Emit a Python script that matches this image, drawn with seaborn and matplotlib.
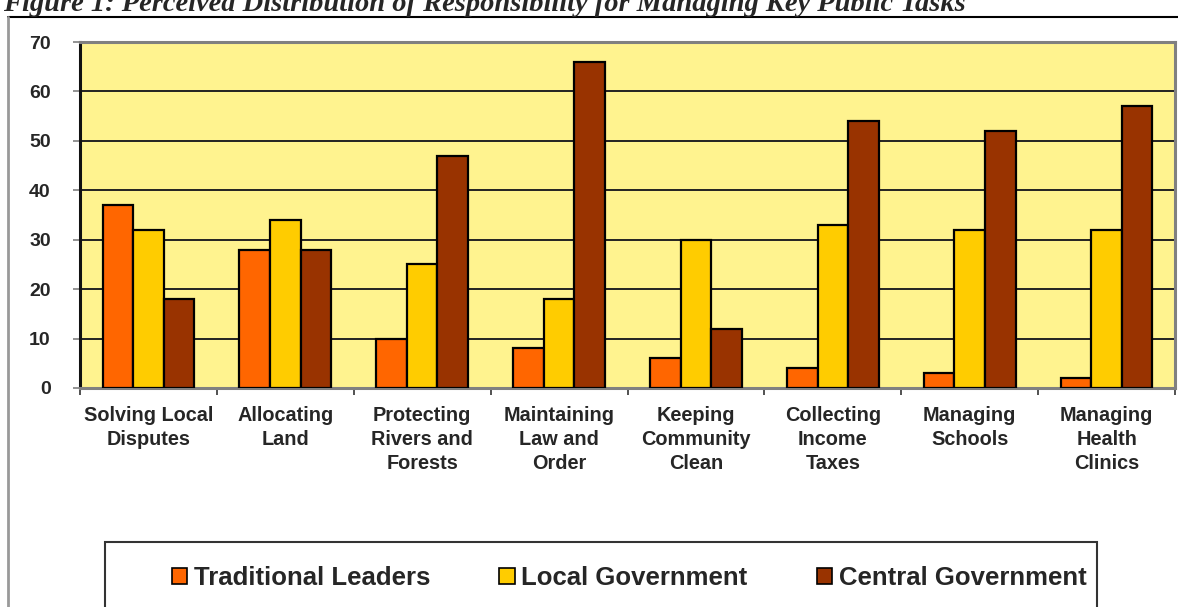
import numpy as np
import pandas as pd
import matplotlib
matplotlib.use("Agg")
import matplotlib.pyplot as plt
from matplotlib.lines import Line2D
from matplotlib.patches import Rectangle
import seaborn as sns

tasks = [
    "Solving Local\nDisputes",
    "Allocating\nLand",
    "Protecting\nRivers and\nForests",
    "Maintaining\nLaw and\nOrder",
    "Keeping\nCommunity\nClean",
    "Collecting\nIncome\nTaxes",
    "Managing\nSchools",
    "Managing\nHealth\nClinics",
]
groups = ["Traditional Leaders", "Local Government", "Central Government"]
traditional = [37, 28, 10, 8, 6, 4, 3, 2]
local_gov = [32, 34, 25, 18, 30, 33, 32, 32]
central_gov = [18, 28, 47, 66, 12, 54, 52, 57]
yticks = [0, 10, 20, 30, 40, 50, 60, 70]
colors = ["#FF6600", "#FFCC00", "#993300"]

df = pd.DataFrame({
    "task": tasks * 3,
    "group": [groups[0]] * 8 + [groups[1]] * 8 + [groups[2]] * 8,
    "value": traditional + local_gov + central_gov,
})

sns.set_theme(style="white")
plt.rcParams["font.family"] = ["Liberation Sans", "DejaVu Sans"]

fig = plt.figure(figsize=(11.78, 6.07), dpi=100)
ax = fig.add_axes([0.0679, 0.3608, 0.9296, 0.570])
ax.set_facecolor("#FFF38F")

sns.barplot(data=df, x="task", y="value", hue="group", order=tasks,
            hue_order=groups, palette=colors, width=0.67, gap=0,
            edgecolor="black", linewidth=1.6, saturation=1, ax=ax,
            legend=False, zorder=3)

ax.set_xlim(-0.5, len(tasks) - 0.5)
ax.set_ylim(0, 70)
ax.set_yticks(yticks)
ax.set_yticklabels([str(v) for v in yticks], fontsize=14, fontweight="bold")
ax.yaxis.grid(True, color="#222222", linewidth=1.4, zorder=1)
ax.set_axisbelow(True)
ax.set_xlabel("")
ax.set_ylabel("")

ax.set_xticks(range(len(tasks)))
ax.set_xticklabels(tasks, fontsize=14.3, fontweight="bold", linespacing=1.32)
ax.tick_params(axis="x", which="major", length=0, pad=13)
ax.set_xticks(np.arange(-0.5, len(tasks), 1.0), minor=True)
ax.tick_params(axis="x", which="minor", length=5, width=1.2, color="#333333",
               bottom=True, direction="out")
ax.tick_params(axis="y", which="major", length=5, width=1.2, color="#808080",
               left=True, direction="out", pad=16)

for side in ["top", "right", "bottom"]:
    ax.spines[side].set_color("#808080")
    ax.spines[side].set_linewidth(2.2)
ax.spines["left"].set_color("#111111")
ax.spines["left"].set_linewidth(2.2)

# title, underline and outer frame of the figure
fig.text(3 / 1178, 1 - 11 / 607,
         "Figure 1: Perceived Distribution of Responsibility for Managing Key Public Tasks",
         ha="left", va="baseline", fontsize=20.5, fontweight="bold", fontstyle="italic",
         family=["Liberation Serif", "DejaVu Serif"])
fig.add_artist(Line2D([0.0068, 1.0], [1 - 17 / 607, 1 - 17 / 607], color="black", linewidth=1.5))
fig.add_artist(Line2D([0.0068, 0.0068], [0.0, 1 - 17 / 607], color="#999999", linewidth=2))

# legend box
fig.add_artist(Rectangle((0.0891, -0.05), 0.8421, 0.1571, transform=fig.transFigure,
                         fill=False, edgecolor="#333333", linewidth=1.5))
handles = [Rectangle((0, 0), 1, 1, facecolor=c, edgecolor="black", linewidth=1.2) for c in colors]
leg = fig.legend(handles, groups, loc="center", bbox_to_anchor=(0.534, 1 - 578 / 607),
                 ncol=3, frameon=False, prop={"size": 18.5, "weight": "bold"},
                 handlelength=0.6, handleheight=0.6, handletextpad=0.25,
                 columnspacing=2.7)

fig.savefig("out.png", dpi=100)
